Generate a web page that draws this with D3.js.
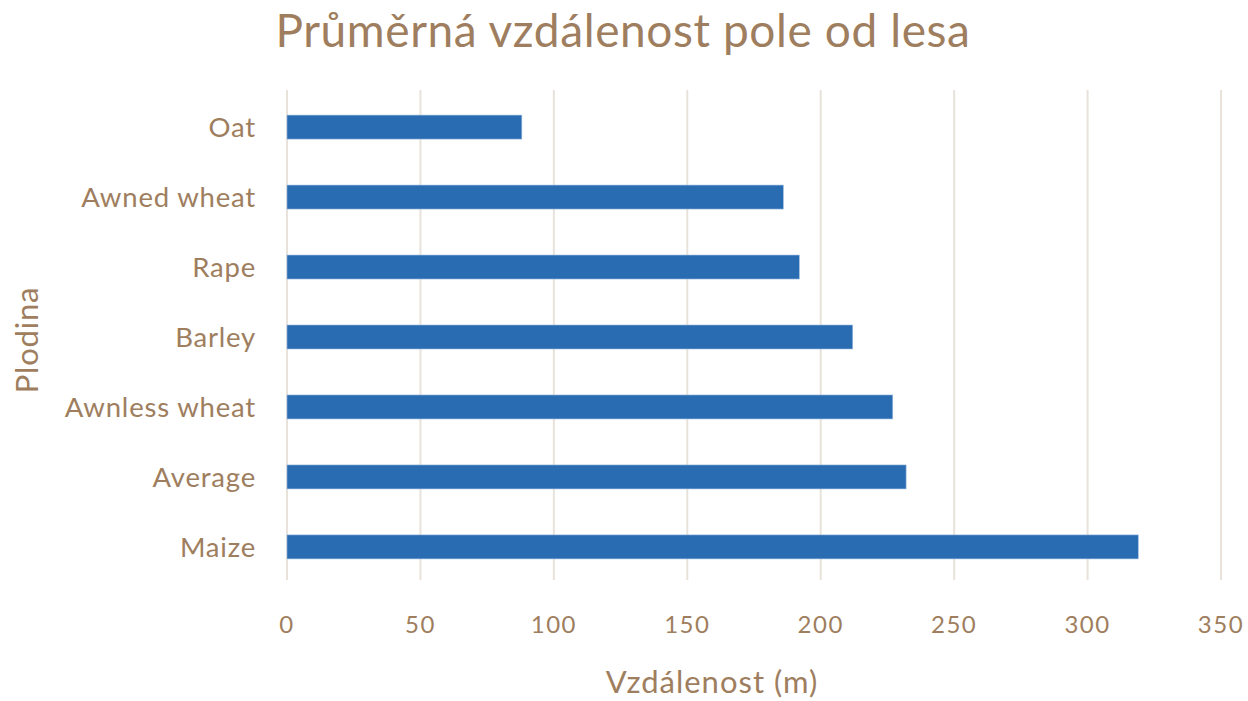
<!DOCTYPE html>
<html>
<head>
<meta charset="utf-8">
<script src="https://cdn.jsdelivr.net/npm/d3@7"></script>
<style>
  body { margin: 0; background: #fff; }
  text { font-family: Lato, "Open Sans", sans-serif; fill: #9e7e5e; }
</style>
</head>
<body>
<div id="chart"></div>
<script>
// categories listed top to bottom as shown
const crops = ["Oat", "Awned wheat", "Rape", "Barley", "Awnless wheat", "Average", "Maize"];
const distances = [88, 186, 192, 212, 227, 232, 319];
const xTicks = [0, 50, 100, 150, 200, 250, 300, 350];

const width = 1248, height = 701;
const margin = {top: 92, right: 27, bottom: 119, left: 287};

const svg = d3.select('#chart')
    .append('svg')
    .attr('width', width)
    .attr('height', height);

const x = d3.scaleLinear()
    .domain([0, 350])
    .range([margin.left, width - margin.right]);

const y = d3.scaleBand()
    .domain(crops)
    .range([margin.top, height - margin.bottom])
    .paddingInner(0.657)
    .paddingOuter(0.33);

// gridlines
svg.append('g')
    .selectAll('line')
    .data(xTicks)
    .join('line')
    .attr('x1', d => x(d))
    .attr('x2', d => x(d))
    .attr('y1', margin.top - 2)
    .attr('y2', height - margin.bottom - 2)
    .attr('stroke', '#e8e2da')
    .attr('stroke-width', 2);

// bars
svg.append('g')
    .selectAll('rect')
    .data(crops)
    .join('rect')
    .attr('x', x(0))
    .attr('y', d => y(d))
    .attr('width', (d, i) => x(distances[i]) - x(0))
    .attr('height', y.bandwidth())
    .attr('fill', '#2a6cb1')
    .attr('stroke', '#9dbde0')
    .attr('stroke-width', 0.6);

// x axis labels
svg.append('g')
    .selectAll('text')
    .data(xTicks)
    .join('text')
    .attr('x', d => x(d))
    .attr('y', 633)
    .attr('text-anchor', 'middle')
    .attr('font-size', 24)
    .attr('letter-spacing', 1.5)
    .text(d => d);

// y axis labels
svg.append('g')
    .selectAll('text')
    .data(crops)
    .join('text')
    .attr('x', 256)
    .attr('y', d => y(d) + y.bandwidth() / 2)
    .attr('dy', '0.35em')
    .attr('text-anchor', 'end')
    .attr('font-size', 27.5)
    .attr('letter-spacing', 0.8)
    .text(d => d);

// titles
svg.append('text')
    .attr('x', 623)
    .attr('y', 47)
    .attr('text-anchor', 'middle')
    .attr('font-size', 46)
    .attr('letter-spacing', 0.6)
    .text('Průměrná vzdálenost pole od lesa');

svg.append('text')
    .attr('x', 712)
    .attr('y', 693)
    .attr('text-anchor', 'middle')
    .attr('font-size', 31)
    .attr('letter-spacing', 1)
    .text('Vzdálenost (m)');

svg.append('text')
    .attr('transform', 'translate(38,340) rotate(-90)')
    .attr('text-anchor', 'middle')
    .attr('font-size', 31)
    .attr('letter-spacing', 0.8)
    .text('Plodina');
</script>
</body>
</html>
